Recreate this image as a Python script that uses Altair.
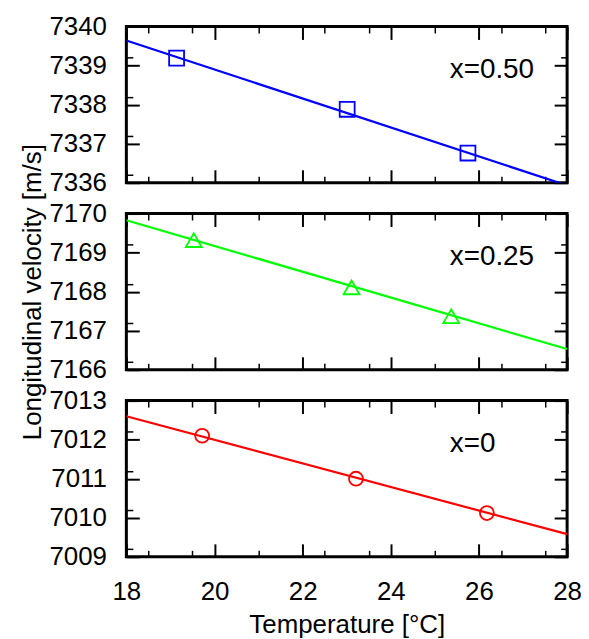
import altair as alt
import pandas as pd

# ---- data ----
temp_050 = [19.14, 23.01, 25.75]
vel_050 = [7339.19, 7337.88, 7336.76]
temp_025 = [19.53, 23.11, 25.37]
vel_025 = [7169.32, 7168.11, 7167.37]
temp_000 = [19.72, 23.21, 26.18]
vel_000 = [7012.10, 7011.00, 7010.12]

fit_temp = [18, 28]
fit_050 = [7339.64, 7335.93]
fit_025 = [7169.83, 7166.53]
fit_000 = [7012.60, 7009.58]

labels = ["x=0.50", "x=0.25", "x=0"]

x_domain = [18, 28]
x_major = [18, 20, 22, 24, 26, 28]
x_minor = [18.5, 19, 19.5, 20.5, 21, 21.5, 22.5, 23, 23.5,
           24.5, 25, 25.5, 26.5, 27, 27.5]

y_dom_050 = [7336, 7340]
y_maj_050 = [7336, 7337, 7338, 7339, 7340]
y_min_050 = [7336.2, 7336.4, 7336.6, 7336.8, 7337.2, 7337.4, 7337.6, 7337.8,
             7338.2, 7338.4, 7338.6, 7338.8, 7339.2, 7339.4, 7339.6, 7339.8]
y_dom_025 = [7166, 7170]
y_maj_025 = [7166, 7167, 7168, 7169, 7170]
y_min_025 = [7166.2, 7166.4, 7166.6, 7166.8, 7167.2, 7167.4, 7167.6, 7167.8,
             7168.2, 7168.4, 7168.6, 7168.8, 7169.2, 7169.4, 7169.6, 7169.8]
y_dom_000 = [7009, 7013]
y_maj_000 = [7009, 7010, 7011, 7012, 7013]
y_min_000 = [7009.2, 7009.4, 7009.6, 7009.8, 7010.2, 7010.4, 7010.6, 7010.8,
             7011.2, 7011.4, 7011.6, 7011.8, 7012.2, 7012.4, 7012.6, 7012.8]

FONT = "Liberation Sans"
W, H = 443, 157
MAJ, MIN = 13, 6.5


def make_axis(orient, values, size, show_labels, title, width, pad, tpad):
    kw = dict(orient=orient, values=values, tickSize=size, offset=-size,
              domain=False, grid=False, labels=show_labels, tickColor="black",
              tickWidth=width, labelFlush=False, labelOverlap=False,
              labelPadding=pad, labelFontSize=26, titleFontSize=26,
              labelFont=FONT, titleFont=FONT, labelColor="black",
              titleColor="black", titleFontWeight="normal", format="d",
              titlePadding=tpad)
    kw["title"] = title if title else None
    return alt.Axis(**kw)


def panel(temps, vels, fit_vals, y_dom, y_maj, y_min, shape, size, color,
          label, show_x, y_title):
    pts = pd.DataFrame({"T": temps, "V": vels})
    fit = pd.DataFrame({"T": fit_temp, "V": fit_vals})
    xs = alt.Scale(domain=x_domain, nice=False, zero=False)
    ys = alt.Scale(domain=y_dom, nice=False, zero=False)

    def axis_layer(xo, yo, xv, yv, sz, xl, yl, xt, yt, w):
        xpad = 22 if xl else 2
        return alt.Chart(fit).mark_line(strokeOpacity=0).encode(
            x=alt.X("T:Q", scale=xs, axis=make_axis(xo, xv, sz, xl, xt, w, xpad, 7)),
            y=alt.Y("V:Q", scale=ys, axis=make_axis(yo, yv, sz, yl, yt, w, 20, 3)),
        )

    a1 = axis_layer("bottom", "left", x_major, y_maj, MAJ, show_x, True,
                    "Temperature [°C]" if show_x else None, y_title, 2)
    a2 = axis_layer("bottom", "left", x_minor, y_min, MIN, False, False, None, None, 1.5)
    a3 = axis_layer("top", "right", x_major, y_maj, MAJ, False, False, None, None, 2)
    a4 = axis_layer("top", "right", x_minor, y_min, MIN, False, False, None, None, 1.5)

    line = alt.Chart(fit).mark_line(color=color, strokeWidth=2.2, clip=True).encode(
        x=alt.X("T:Q", scale=xs, axis=None),
        y=alt.Y("V:Q", scale=ys, axis=None),
    )
    points = alt.Chart(pts).mark_point(shape=shape, filled=False, color=color,
                                       size=size, strokeWidth=1.8, opacity=1).encode(
        x=alt.X("T:Q", scale=xs, axis=None),
        y=alt.Y("V:Q", scale=ys, axis=None),
    )
    text = alt.Chart(pd.DataFrame({"lab": [label]})).mark_text(
        align="left", baseline="middle", fontSize=28, font=FONT, color="black"
    ).encode(text="lab:N", x=alt.value(325), y=alt.value(44))

    return alt.layer(a1, a2, a3, a4, line, points, text).resolve_axis(
        x="independent", y="independent"
    ).properties(width=W, height=H)


p_top = panel(temp_050, vel_050, fit_050, y_dom_050, y_maj_050, y_min_050,
              "square", 225, "#0000ff", labels[0], False, None)
p_mid = panel(temp_025, vel_025, fit_025, y_dom_025, y_maj_025, y_min_025,
              "triangle-up", 256, "#00ff00", labels[1], False,
              "Longitudinal velocity [m/s]")
p_bot = panel(temp_000, vel_000, fit_000, y_dom_000, y_maj_000, y_min_000,
              "circle", 196, "#ff0000", labels[2], True, None)

chart = alt.vconcat(p_top, p_mid, p_bot, spacing=31, bounds="flush").properties(
    padding={"left": 18, "top": 10, "right": 6, "bottom": 2}
).configure_view(stroke="black", strokeWidth=3)

chart.save("out.html", embed_options={"renderer": "svg", "actions": False})
